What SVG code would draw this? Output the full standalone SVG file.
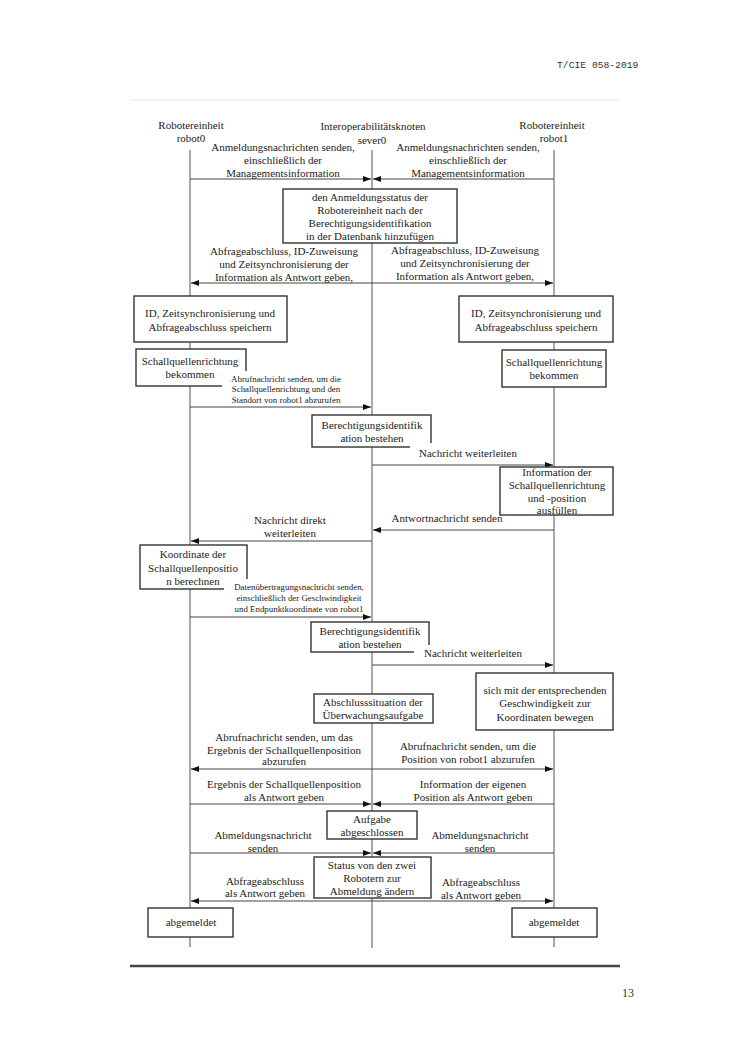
<svg xmlns="http://www.w3.org/2000/svg" width="750" height="1060" viewBox="0 0 750 1060">
<style>
.t{font-family:"Liberation Serif","Times New Roman",serif;font-size:11px;fill:#222;text-anchor:middle}
.s{font-size:8.9px}
.box{fill:#fff;stroke:#333;stroke-width:1.4}
.ll{stroke:#555;stroke-width:1;fill:none}
.msg{stroke:#444;stroke-width:1;marker-end:url(#ah)}
.bg{fill:#fff;stroke:none}
</style>
<defs>
<marker id="ah" markerUnits="userSpaceOnUse" markerWidth="9" markerHeight="7" refX="8" refY="3" orient="auto">
<path d="M0,0 L8,3 L0,6 z" fill="#111"/>
</marker>
</defs>
<rect width="750" height="1060" fill="#fff"/>
<text x="557" y="68" style="font-family:'Liberation Mono',monospace;font-size:9.7px;fill:#333">T/CIE 058-2019</text>
<line x1="130" y1="100" x2="620" y2="100" stroke="#e8e8e8" stroke-width="1"/>

<g id="lifelines">
<line class="ll" x1="190" y1="150" x2="190" y2="947"/>
<line class="ll" x1="372" y1="150" x2="372" y2="948"/>
<line class="ll" x1="554" y1="150" x2="554" y2="947"/>
</g>

<g id="headers">
<g id="robot0"><text class="t" x="191" y="129">Robotereinheit</text><text class="t" x="191" y="142">robot0</text></g>
<g id="sever0"><text class="t" x="373" y="130">Interoperabilitätsknoten</text><text class="t" x="372" y="144">sever0</text></g>
<g id="robot1"><text class="t" x="552" y="129">Robotereinheit</text><text class="t" x="554" y="142">robot1</text></g>
</g>

<g id="connectors">
<line class="msg" x1="190" y1="179" x2="371" y2="179"/>
<line class="msg" x1="554" y1="179" x2="373" y2="179"/>
<line class="msg" x1="372" y1="283" x2="191" y2="283"/>
<line class="msg" x1="372" y1="283" x2="553" y2="283"/>
<line class="msg" x1="190" y1="407" x2="371" y2="407"/>
<line class="msg" x1="372" y1="465" x2="553" y2="465"/>
<line class="msg" x1="554" y1="530" x2="373" y2="530"/>
<line class="msg" x1="372" y1="541" x2="191" y2="541"/>
<line class="msg" x1="190" y1="617" x2="371" y2="617"/>
<line class="msg" x1="372" y1="665" x2="553" y2="665"/>
<line class="msg" x1="372" y1="769" x2="191" y2="769"/>
<line class="msg" x1="372" y1="769" x2="553" y2="769"/>
<line class="msg" x1="190" y1="804" x2="371" y2="804"/>
<line class="msg" x1="554" y1="804" x2="373" y2="804"/>
<line class="msg" x1="190" y1="853" x2="371" y2="853"/>
<line class="msg" x1="554" y1="853" x2="373" y2="853"/>
<line class="msg" x1="372" y1="901" x2="191" y2="901"/>
<line class="msg" x1="372" y1="901" x2="553" y2="901"/>
</g>

<g id="connector-labels">
<text class="t" x="283" y="151">Anmeldungsnachrichten senden,</text>
<text class="t" x="283" y="164">einschließlich der</text>
<text class="t" x="283" y="177">Managementsinformation</text>
<text class="t" x="468" y="151">Anmeldungsnachrichten senden,</text>
<text class="t" x="468" y="164">einschließlich der</text>
<text class="t" x="468" y="177">Managementsinformation</text>

<text class="t" x="284" y="255">Abfrageabschluss, ID-Zuweisung</text>
<text class="t" x="284" y="268">und Zeitsynchronisierung der</text>
<text class="t" x="284" y="281">Information als Antwort geben,</text>
<text class="t" x="465" y="254">Abfrageabschluss, ID-Zuweisung</text>
<text class="t" x="465" y="267">und Zeitsynchronisierung der</text>
<text class="t" x="465" y="280">Information als Antwort geben,</text>
</g>

<g id="n_store0"><rect class="box" x="134" y="296" width="153" height="46"/><text class="t" x="210" y="317">ID, Zeitsynchronisierung und</text><text class="t" x="210" y="331">Abfrageabschluss speichern</text></g>
<g id="n_store1"><rect class="box" x="459" y="296" width="154" height="46"/><text class="t" x="536" y="317">ID, Zeitsynchronisierung und</text><text class="t" x="536" y="331">Abfrageabschluss speichern</text></g>
<g id="n_dir0"><rect class="box" x="136" y="349" width="110" height="37"/><text class="t" x="190" y="365">Schallquellenrichtung</text><text class="t" x="190" y="378">bekommen</text></g>
<g id="n_dir1"><rect class="box" x="502" y="350" width="104" height="37"/><text class="t" x="554" y="366">Schallquellenrichtung</text><text class="t" x="554" y="379">bekommen</text></g>

<g id="n_db"><rect class="box" x="283" y="189" width="174" height="54"/>
<text class="t" x="370" y="201">den Anmeldungsstatus der</text>
<text class="t" x="370" y="214">Robotereinheit nach der</text>
<text class="t" x="370" y="227">Berechtigungsidentifikation</text>
<text class="t" x="370" y="240">in der Datenbank hinzufügen</text></g>

<g id="lbl_abruf1">
<rect class="bg" x="222" y="371" width="128" height="33"/>
<text class="t s" x="286" y="382">Abrufnachricht senden, um die</text>
<text class="t s" x="286" y="392">Schallquellenrichtung und den</text>
<text class="t s" x="286" y="403">Standort von robot1 abzurufen</text>
</g>

<g id="n_auth1"><rect class="box" x="312" y="415" width="119" height="32"/><text class="t" x="372" y="429">Berechtigungsidentifik</text><text class="t" x="372" y="442">ation bestehen</text></g>
<g id="lbl_fwd1"><rect class="bg" x="410" y="443" width="112" height="16"/><text class="t" x="468" y="457">Nachricht weiterleiten</text></g>

<g id="n_info"><rect class="box" x="500" y="467" width="113" height="48"/>
<text class="t" x="557" y="476">Information der</text>
<text class="t" x="557" y="489">Schallquellenrichtung</text>
<text class="t" x="557" y="502">und -position</text>
<text class="t" x="557" y="514">ausfüllen</text></g>

<text class="t" x="447" y="522">Antwortnachricht senden</text>
<text class="t" x="290" y="524">Nachricht direkt</text>
<text class="t" x="290" y="537">weiterleiten</text>

<g id="n_coord"><rect class="box" x="140" y="545" width="107" height="44"/>
<text class="t" x="193" y="558">Koordinate der</text>
<text class="t" x="193" y="572">Schallquellenpositio</text>
<text class="t" x="193" y="585">n berechnen</text></g>

<g id="lbl_data">
<rect class="bg" x="224" y="579" width="146" height="34"/>
<text class="t s" x="299" y="590">Datenübertragungsnachricht senden,</text>
<text class="t s" x="299" y="601">einschließlich der Geschwindigkeit</text>
<text class="t s" x="299" y="612">und Endpunktkoordinate von robot1</text>
</g>

<g id="n_auth2"><rect class="box" x="311" y="622" width="118" height="30"/><text class="t" x="370" y="635">Berechtigungsidentifik</text><text class="t" x="370" y="648">ation bestehen</text></g>
<g id="lbl_fwd2"><rect class="bg" x="414" y="645" width="115" height="14"/><text class="t" x="473" y="657">Nachricht weiterleiten</text></g>

<g id="n_move"><rect class="box" x="476" y="673" width="137" height="57"/>
<text class="t" x="545" y="694">sich mit der entsprechenden</text>
<text class="t" x="545" y="707">Geschwindigkeit zur</text>
<text class="t" x="545" y="721">Koordinaten bewegen</text></g>

<g id="n_done"><rect class="box" x="314" y="694" width="119" height="29"/>
<text class="t" x="373" y="706">Abschlusssituation der</text>
<text class="t" x="373" y="719">Überwachungsaufgabe</text></g>

<g id="connector-labels-2">
<text class="t" x="284" y="741">Abrufnachricht senden, um das</text>
<text class="t" x="284" y="754">Ergebnis der Schallquellenposition</text>
<text class="t" x="284" y="765">abzurufen</text>
<text class="t" x="468" y="750">Abrufnachricht senden, um die</text>
<text class="t" x="468" y="763">Position von robot1 abzurufen</text>
<text class="t" x="284" y="788">Ergebnis der Schallquellenposition</text>
<text class="t" x="284" y="801">als Antwort geben</text>
<text class="t" x="473" y="788">Information der eigenen</text>
<text class="t" x="473" y="801">Position als Antwort geben</text>
<text class="t" x="263" y="839">Abmeldungsnachricht</text>
<text class="t" x="263" y="852">senden</text>
<text class="t" x="480" y="839">Abmeldungsnachricht</text>
<text class="t" x="480" y="852">senden</text>
<text class="t" x="265" y="885">Abfrageabschluss</text>
<text class="t" x="265" y="897">als Antwort geben</text>
<text class="t" x="481" y="886">Abfrageabschluss</text>
<text class="t" x="481" y="899">als Antwort geben</text>
</g>

<g id="n_task"><rect class="box" x="327" y="811" width="90" height="28"/>
<text class="t" x="372" y="823">Aufgabe</text>
<text class="t" x="372" y="836">abgeschlossen</text></g>

<g id="n_status"><rect class="box" x="314" y="857" width="117" height="41"/>
<text class="t" x="372" y="869">Status von den zwei</text>
<text class="t" x="372" y="882">Robotern zur</text>
<text class="t" x="372" y="895">Abmeldung ändern</text></g>

<g id="n_off0"><rect class="box" x="148" y="908" width="85" height="29"/><text class="t" x="191" y="926">abgemeldet</text></g>
<g id="n_off1"><rect class="box" x="512" y="908" width="85" height="29"/><text class="t" x="554" y="926">abgemeldet</text></g>

<line x1="130" y1="966" x2="620" y2="966" stroke="#444" stroke-width="2.5"/>
<text x="628" y="997" style="font-family:'Liberation Serif',serif;font-size:12px;fill:#333;text-anchor:middle">13</text>
</svg>
